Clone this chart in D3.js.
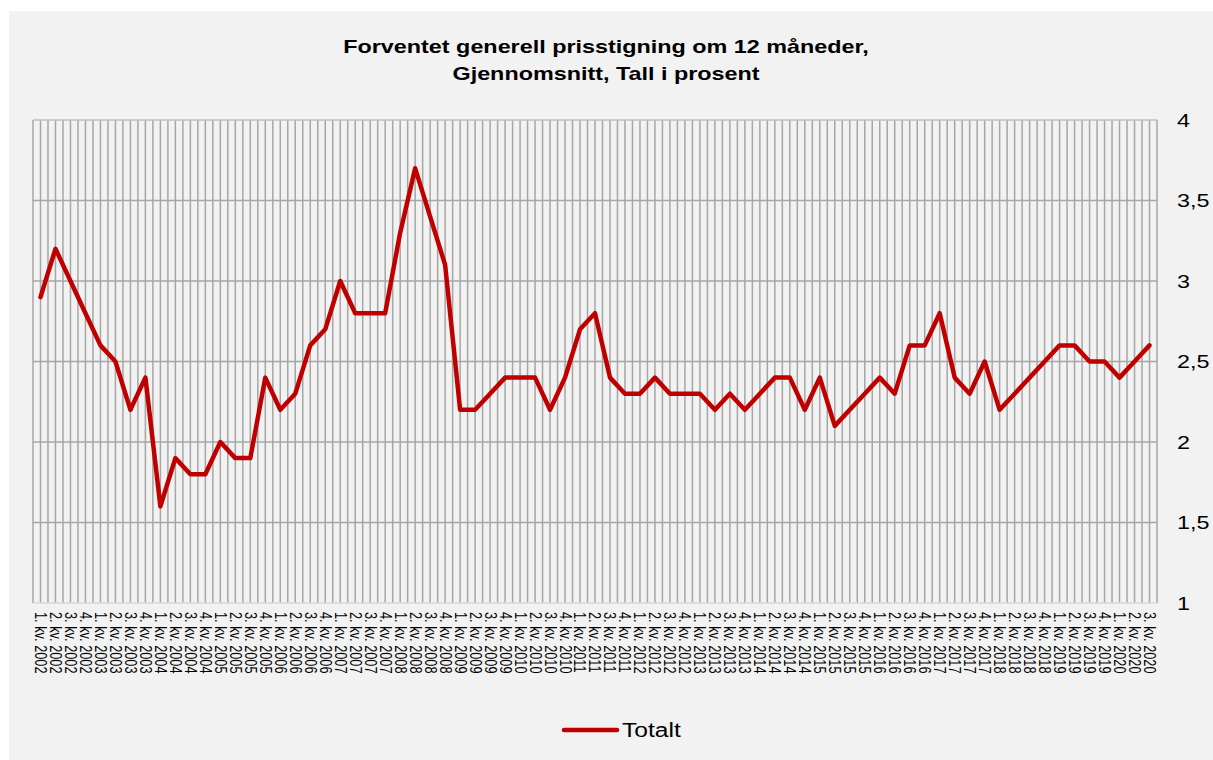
<!DOCTYPE html>
<html>
<head>
<meta charset="utf-8">
<script src="https://cdn.jsdelivr.net/npm/d3@7"></script>
<style>
  body { margin: 0; background: #ffffff; }
  svg { display: block; font-family: "Liberation Sans", Arial, sans-serif; }
</style>
</head>
<body>
<svg id="chart" width="1213" height="760"></svg>
<script>
// quarters 1. kv. 2002 .. 3. kv. 2020
const years = d3.range(2002, 2021);
const quarters = [];
years.forEach(y => {
    [1, 2, 3, 4].forEach(q => {
        if (y === 2020 && q > 3) return;
        quarters.push(q + ". kv. " + y);
    });
});

// Totalt, expected price growth in 12 months (percent)
const totalt = [
    2.9, 3.2, 3.0, 2.8, 2.6, 2.5, 2.2, 2.4,
    1.6, 1.9, 1.8, 1.8, 2.0, 1.9, 1.9, 2.4,
    2.2, 2.3, 2.6, 2.7, 3.0, 2.8, 2.8, 2.8,
    3.3, 3.7, 3.4, 3.1, 2.2, 2.2, 2.3, 2.4,
    2.4, 2.4, 2.2, 2.4, 2.7, 2.8, 2.4, 2.3,
    2.3, 2.4, 2.3, 2.3, 2.3, 2.2, 2.3, 2.2,
    2.3, 2.4, 2.4, 2.2, 2.4, 2.1, 2.2, 2.3,
    2.4, 2.3, 2.6, 2.6, 2.8, 2.4, 2.3, 2.5,
    2.2, 2.3, 2.4, 2.5, 2.6, 2.6, 2.5, 2.5,
    2.4, 2.5, 2.6
];

const yTicks = [1, 1.5, 2, 2.5, 3, 3.5, 4];
const seriesName = "Totalt";
const titleLines = ["Forventet generell prisstigning om 12 måneder,", "Gjennomsnitt, Tall i prosent"];

// the original picture is a bit wider than tall, text looks stretched sideways
const sx = 1.23;

const svg = d3.select("#chart");

// grey panel
svg.append("rect")
    .attr("x", 9).attr("y", 11)
    .attr("width", 1213 - 9).attr("height", 760 - 11)
    .attr("fill", "#f2f2f2");

const plotLeft = 33, plotRight = 1157, plotTop = 120, plotBottom = 603;

let data = quarters.map((q, i) => ({q: q, v: totalt[i]}));

let xScale = d3.scaleBand()
    .domain(quarters)
    .range([plotLeft, plotRight])
    .padding(0);
let yScale = d3.scaleLinear()
    .domain([1, 4])
    .range([plotBottom, plotTop]);

const bw = xScale.bandwidth();

// vertical gridlines at category edges and centres
let vLines = [];
quarters.forEach(q => {
    vLines.push(xScale(q));
    vLines.push(xScale(q) + bw / 2);
});
vLines.push(plotRight);

svg.append("g")
    .selectAll("line")
    .data(vLines)
    .enter().append("line")
    .attr("x1", d => d).attr("x2", d => d)
    .attr("y1", plotTop).attr("y2", plotBottom)
    .attr("stroke", "#a6a6a6")
    .attr("stroke-width", 1.5);

// horizontal gridlines
svg.append("g")
    .selectAll("line")
    .data(yTicks.filter(t => t > 1))
    .enter().append("line")
    .attr("x1", plotLeft).attr("x2", plotRight)
    .attr("y1", d => yScale(d)).attr("y2", d => yScale(d))
    .attr("stroke", d => d === 4 ? "#bfbfbf" : "#a6a6a6")
    .attr("stroke-width", 1.5);

// bottom axis line
svg.append("line")
    .attr("x1", plotLeft).attr("x2", plotRight)
    .attr("y1", plotBottom).attr("y2", plotBottom)
    .attr("stroke", "#d9d9d9")
    .attr("stroke-width", 1.5);

// y labels on the right
svg.append("g")
    .selectAll("text")
    .data(yTicks)
    .enter().append("text")
    .attr("transform", d => "translate(1177," + yScale(d) + ") scale(" + sx + ",1)")
    .attr("dy", "0.35em")
    .attr("font-size", 19)
    .attr("fill", "#000")
    .text(d => d3.format(".1~f")(d).replace(".", ","));

// x labels, rotated
svg.append("g")
    .selectAll("text")
    .data(quarters)
    .enter().append("text")
    .attr("transform", d => "translate(" + (xScale(d) + bw / 2) + ",612) scale(" + sx + ",1) rotate(90)")
    .attr("dy", "0.35em")
    .attr("font-size", 12.8)
    .attr("fill", "#000")
    .text(d => d);

// the line
let lineGen = d3.line()
    .x(d => xScale(d.q) + bw / 2)
    .y(d => yScale(d.v));

svg.append("path")
    .datum(data)
    .attr("d", lineGen)
    .attr("fill", "none")
    .attr("stroke", "#c00000")
    .attr("stroke-width", 4.5)
    .attr("stroke-linejoin", "round")
    .attr("stroke-linecap", "round");

// title
let title = svg.append("g")
    .attr("transform", "translate(606,0) scale(" + sx + ",1)");
title.selectAll("text")
    .data(titleLines)
    .enter().append("text")
    .attr("x", 0)
    .attr("y", (d, i) => 53 + i * 27)
    .attr("text-anchor", "middle")
    .attr("font-size", 19)
    .attr("font-weight", "bold")
    .text(d => d);

// legend
svg.append("line")
    .attr("x1", 564).attr("x2", 617)
    .attr("y1", 730).attr("y2", 730)
    .attr("stroke", "#c00000")
    .attr("stroke-width", 4.5)
    .attr("stroke-linecap", "round");
svg.append("text")
    .attr("transform", "translate(622,730) scale(" + sx + ",1)")
    .attr("dy", "0.35em")
    .attr("font-size", 20)
    .text(seriesName);
</script>
</body>
</html>
